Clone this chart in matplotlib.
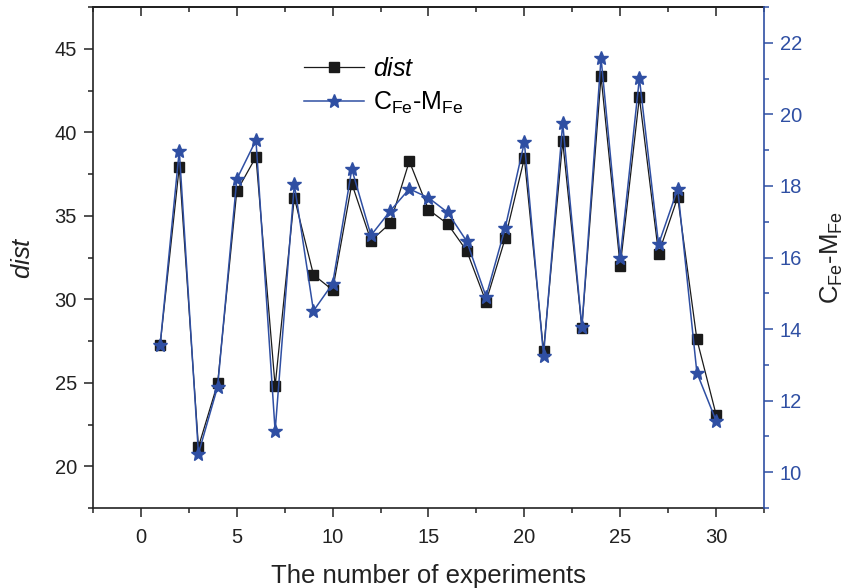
import numpy as np
import matplotlib
matplotlib.use('Agg')
from matplotlib import pyplot as plt
from matplotlib.ticker import MultipleLocator

plt.rcParams['font.family'] = ['Liberation Sans', 'DejaVu Sans']
plt.rcParams['mathtext.fontset'] = 'custom'
plt.rcParams['mathtext.rm'] = 'Liberation Sans'
plt.rcParams['mathtext.it'] = 'Liberation Sans:italic'

# experiment index
experiments = np.arange(1, 31)
# dist values (left axis)
dist = [27.25, 37.94, 21.16, 24.96, 36.47, 38.53, 24.80, 36.09, 31.47, 30.55,
        36.93, 33.51, 34.55, 38.27, 35.37, 34.51, 32.89, 29.85, 33.65, 38.45,
        26.90, 39.47, 28.29, 43.36, 31.97, 42.10, 32.73, 36.11, 27.60, 23.10]
# C_Fe - M_Fe values (right axis)
c_minus_m = [13.55, 18.99, 10.52, 12.39, 18.19, 19.28, 11.15, 18.05, 14.51, 15.27,
             18.47, 16.62, 17.30, 17.92, 17.67, 17.26, 16.45, 14.91, 16.83, 19.22,
             13.26, 19.75, 14.06, 21.58, 15.99, 21.01, 16.37, 17.92, 12.78, 11.44]

blue = '#2F4FA3'
dark = '#1a1a1a'

fig = plt.figure(figsize=(8.47, 5.88), dpi=100)
ax = fig.add_axes([0.1098, 0.136, 0.7922, 0.852])
ax2 = ax.twinx()

l1, = ax.plot(experiments, dist, color=dark, lw=0.9, marker='s', ms=7.2,
              mec=dark, mfc=dark, label=r'$\mathit{dist}$')
l2, = ax2.plot(experiments, c_minus_m, color=blue, lw=1.1, marker='*', ms=10.5,
               mec=blue, mfc=blue, label=r'C$_\mathregular{Fe}$-M$_\mathregular{Fe}$')

ax.set_xlim(-2.5, 32.5)
ax.set_ylim(17.5, 47.5)
ax2.set_ylim(9, 23)

ax.xaxis.set_major_locator(MultipleLocator(5))
ax.xaxis.set_minor_locator(MultipleLocator(2.5))
ax.yaxis.set_major_locator(MultipleLocator(5))
ax.yaxis.set_minor_locator(MultipleLocator(2.5))
ax2.yaxis.set_major_locator(MultipleLocator(2))
ax2.yaxis.set_minor_locator(MultipleLocator(1))

for sp in ax.spines.values():
    sp.set_linewidth(1.2)
    sp.set_color('#222222')
ax.spines['right'].set_visible(False)
for name, sp in ax2.spines.items():
    sp.set_visible(name == 'right')
ax2.spines['right'].set_color(blue)
ax2.spines['right'].set_linewidth(1.2)

ax.tick_params(axis='both', which='major', direction='out', length=6.5, width=1.1,
               labelsize=14.5, colors='#222222', top=False, right=False, pad=5)
ax.tick_params(axis='x', which='major', pad=8)
ax.tick_params(axis='both', which='minor', direction='out', length=3.8, width=1.1,
               colors='#222222', top=False, right=False)
ax2.tick_params(axis='y', which='major', direction='out', length=6.5, width=1.1,
                labelsize=14.5, colors=blue, pad=5)
ax2.tick_params(axis='y', which='minor', direction='out', length=3.8, width=1.1,
                colors=blue)

# mirror ticks on top, pointing inward
top = ax.secondary_xaxis('top')
top.xaxis.set_major_locator(MultipleLocator(5))
top.xaxis.set_minor_locator(MultipleLocator(2.5))
top.tick_params(which='major', direction='in', length=6.5, width=1.1, labeltop=False,
                colors='#222222')
top.tick_params(which='minor', direction='in', length=3.8, width=1.1, colors='#222222')
top.spines['top'].set_linewidth(1.2)

ax.set_xlabel('The number of experiments', fontsize=18.5, color='#222222', labelpad=12)
ax.set_ylabel(r'$\mathit{dist}$', fontsize=18.5, color='#222222', labelpad=14)
ax2.set_ylabel(r'C$_\mathregular{Fe}$-M$_\mathregular{Fe}$', fontsize=18.5, color='#222222',
               labelpad=12)

leg = ax2.legend(handles=[l1, l2], loc='upper left', bbox_to_anchor=(0.3, 0.92),
                 frameon=False, fontsize=18, handlelength=2.4, handletextpad=0.35,
                 labelspacing=0.35, borderaxespad=0)

fig.savefig('out.png', dpi=100)
